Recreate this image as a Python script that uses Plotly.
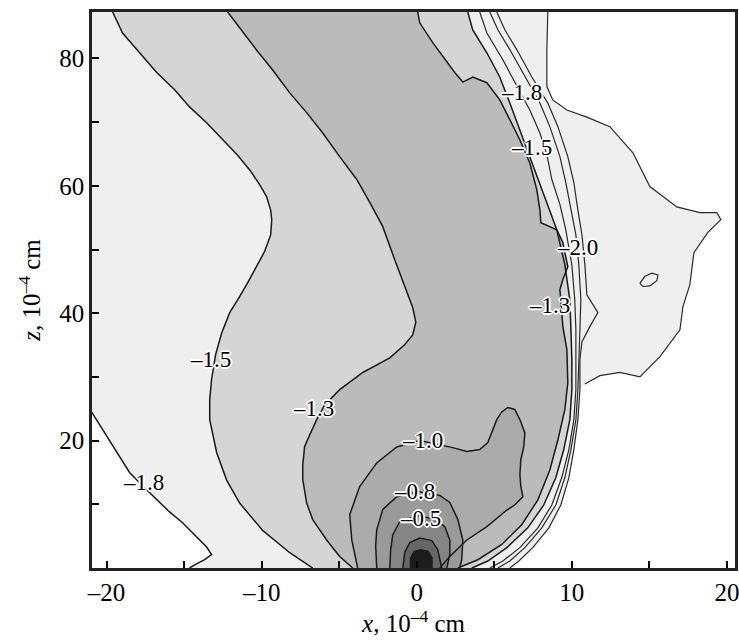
import plotly.graph_objects as go

# ---- axis extents (x, z in 1e-4 cm) ----
X_RANGE = [-20.94, 20.52]
Z_RANGE = [0.0, 87.3]

# ---- contour lines (x, z) ----
# left -1.8
M18L_X = [-20.97, -20.45, -19.81, -19.16, -18.52, -17.55, -16.77, -15.94, -15.10, -14.32, -13.55, -13.23, -13.68, -14.32, -14.65]
M18L_Z = [24.5, 22.5, 20.1, 17.4, 15.0, 12.6, 10.7, 8.8, 7.1, 5.2, 3.3, 2.1, 1.3, 0.5, 0.0]
# left -1.5
M15L_X = [-19.61, -18.97, -17.87, -16.77, -15.61, -14.65, -13.55, -12.52, -11.55, -10.77, -10.13, -9.68, -9.42, -9.35, -9.42, -9.81, -10.32, -10.90, -11.42, -12.06, -12.58, -12.97, -13.23, -13.35, -13.35, -12.90, -12.26, -11.42, -9.94, -8.19, -6.71]
M15L_Z = [87.3, 84.0, 80.9, 77.8, 75.1, 72.4, 69.9, 67.2, 64.8, 62.5, 60.2, 58.3, 56.2, 54.7, 52.3, 49.7, 47.3, 44.8, 42.6, 40.1, 36.9, 33.5, 29.6, 26.4, 23.3, 18.1, 13.8, 10.2, 5.9, 2.4, 0.0]
# left -1.3
M13L_X = [-12.19, -11.42, -10.32, -9.29, -8.19, -7.10, -6.06, -4.97, -3.87, -3.03, -2.19, -1.42, -0.65, -0.26, -0.06, -0.26, -0.77, -1.74, -3.48, -4.97, -5.94, -6.45, -6.90, -7.23, -7.35, -7.35, -7.10, -6.71, -5.81, -4.97, -4.13]
M13L_Z = [87.3, 84.8, 81.3, 78.2, 74.6, 71.5, 68.3, 64.6, 61.0, 57.4, 53.6, 48.4, 43.2, 40.9, 38.6, 36.6, 35.1, 33.0, 30.7, 28.0, 25.6, 23.3, 20.9, 19.1, 16.2, 13.9, 10.2, 7.6, 4.4, 1.8, 0.0]
# right -1.3
M13R_X = [0.06, 0.19, 1.03, 1.94, 2.45, 2.97, 3.61, 4.52, 5.35, 6.00, 6.65, 7.29, 7.74, 7.94, 8.00, 9.03, 9.42, 9.74, 9.42, 9.23, 9.35, 9.42, 9.68, 9.74, 9.55, 9.10, 8.58, 7.81, 6.77, 5.48, 3.94, 2.65]
M13R_Z = [87.3, 85.6, 82.5, 79.5, 77.8, 76.3, 77.1, 76.2, 73.5, 70.4, 67.2, 63.6, 59.4, 56.2, 54.2, 53.1, 51.1, 47.3, 45.3, 43.7, 40.6, 37.9, 34.3, 29.1, 24.9, 20.1, 15.4, 10.7, 6.8, 3.7, 1.3, 0.0]
# right -1.5
M15R_X = [3.29, 3.61, 4.52, 5.35, 6.00, 6.65, 7.29, 7.94, 8.45, 9.03, 9.55, 9.87, 9.94, 10.00, 10.00, 9.87, 9.48, 8.97, 8.19, 7.16, 5.81, 4.58, 3.55]
M15R_Z = [87.3, 84.5, 80.9, 77.1, 73.0, 68.8, 64.6, 60.3, 57.1, 53.1, 47.6, 42.1, 37.4, 32.7, 28.0, 23.3, 18.6, 14.2, 9.9, 6.3, 3.2, 1.1, 0.0]
# right -1.8
M18R_X = [4.06, 4.52, 5.55, 6.45, 7.29, 7.94, 8.39, 8.71, 9.23, 9.61, 10.00, 10.19, 10.26, 10.26, 10.26, 10.13, 9.81, 9.35, 8.71, 7.81, 6.65, 5.55, 4.71]
M18R_Z = [87.3, 84.0, 79.8, 75.6, 71.9, 68.3, 64.9, 61.0, 57.1, 53.1, 47.6, 42.1, 37.4, 32.7, 28.0, 23.3, 18.6, 14.2, 9.9, 6.3, 3.2, 1.1, 0.0]
# right -2.0
M20R_X = [4.71, 5.23, 6.00, 6.97, 7.94, 8.58, 9.23, 9.61, 9.94, 10.26, 10.45, 10.58, 10.52, 10.45, 10.39, 10.26, 9.94, 9.55, 8.97, 8.06, 6.97, 6.00, 5.23]
M20R_Z = [87.3, 84.5, 81.4, 77.1, 73.0, 69.3, 64.6, 60.5, 56.2, 52.3, 47.6, 42.1, 37.4, 32.7, 28.0, 23.3, 18.6, 14.2, 9.9, 6.3, 3.2, 1.1, 0.0]
# outermost bundle line
M23R_X = [5.16, 5.68, 6.45, 7.42, 8.45, 9.10, 9.74, 10.13, 10.39, 10.65, 10.84, 10.97, 11.68, 11.16, 10.65, 10.52, 10.52, 10.39, 10.13, 9.81, 9.29, 8.52, 7.48, 6.58, 6.00]
M23R_Z = [87.3, 84.5, 81.4, 77.1, 73.0, 69.3, 64.6, 60.5, 56.2, 52.3, 47.6, 42.9, 40.1, 37.9, 35.5, 32.7, 28.0, 23.3, 18.6, 14.2, 9.9, 6.3, 3.2, 1.1, 0.0]
# outer boundary of the light area on the right
OUT_X = [8.45, 8.39, 8.39, 8.77, 9.68, 10.97, 12.45, 13.94, 15.03, 16.77, 18.26, 19.35, 19.61, 18.77, 17.87, 17.61, 17.16, 16.97, 15.68, 14.39, 13.10, 11.81, 10.84]
OUT_Z = [87.3, 81.4, 75.6, 73.5, 71.9, 70.8, 69.3, 65.2, 59.9, 56.7, 55.8, 55.8, 54.7, 52.7, 49.5, 44.5, 41.0, 37.4, 33.2, 30.0, 30.7, 30.2, 28.9]
# small closed loop
ISL_X = [14.39, 14.71, 15.16, 15.55, 15.48, 15.03, 14.58, 14.39]
ISL_Z = [44.7, 45.8, 46.3, 46.0, 45.1, 44.3, 44.2, 44.7]
# inner contours around the source
M10_X = [-3.81, -4.19, -4.32, -3.68, -2.58, -1.29, 0.19, 1.48, 2.32, 3.23, 4.06, 4.58, 4.90, 5.16, 5.48, 5.87, 6.32, 6.65, 6.97, 6.90, 6.71, 6.65, 6.71, 6.84, 6.32, 5.81, 4.52, 3.23, 2.13, 1.48]
M10_Z = [0.0, 4.4, 8.4, 12.8, 16.5, 19.0, 20.0, 19.4, 18.9, 18.3, 18.6, 19.7, 21.7, 23.3, 24.5, 25.2, 24.9, 23.3, 21.2, 19.0, 17.0, 14.6, 12.8, 11.2, 9.9, 9.1, 6.5, 4.4, 1.8, 0.0]
M08_X = [-2.58, -2.65, -2.58, -2.19, -1.29, 0.06, 1.48, 2.13, 2.65, 2.97, 2.90, 2.77]
M08_Z = [0.0, 3.5, 6.0, 9.2, 11.2, 12.0, 11.4, 10.3, 7.6, 4.4, 1.3, 0.0]
M05_X = [-1.74, -1.68, -1.55, -1.10, 0.06, 1.16, 1.81, 2.13, 2.13, 1.94]
M05_Z = [0.0, 2.9, 5.2, 7.3, 8.2, 7.7, 6.5, 4.4, 2.1, 0.0]
M03_X = [-0.90, -0.77, -0.45, 0.19, 0.97, 1.35, 1.61]
M03_Z = [0.0, 2.5, 4.0, 4.7, 4.3, 2.9, 0.0]
CORE_X = [-0.45, -0.45, -0.19, 0.26, 0.77, 1.03, 1.03]
CORE_Z = [0.0, 1.6, 2.7, 3.0, 2.7, 1.6, 0.0]

# ---- contour labels ----
LABEL_TEXT = ["–1.8", "–1.5", "–2.0", "–1.3", "–1.5", "–1.3", "–1.0", "–0.8", "–0.5", "–1.8"]
LABEL_X = [6.77, 7.42, 10.39, 8.58, -13.29, -6.65, 0.39, -0.13, 0.26, -17.6]
LABEL_Z = [74.6, 66.0, 50.4, 41.2, 32.7, 25.0, 20.0, 12.0, 7.7, 13.5]

# ---- tick labels ----
X_TICKS = [-20, -10, 0, 10, 20]
X_TICKTEXT = ["–20", "–10", "0", "10", "20"]
X_MINOR = [-15, -5, 5, 15]
Z_TICKS = [20, 40, 60, 80]
Z_MINOR = [10, 30, 50, 70]

SERIF = "Liberation Serif"

fig = go.Figure()


def poly(xs, zs, color):
    fig.add_trace(go.Scatter(x=xs, y=zs, mode="lines", fill="toself", fillcolor=color,
                             line=dict(width=0), hoverinfo="skip", showlegend=False))


def line(xs, zs, w=1.3, color="#1a1a1a"):
    fig.add_trace(go.Scatter(x=xs, y=zs, mode="lines", line=dict(color=color, width=w),
                             hoverinfo="skip", showlegend=False))


# light region (everything above the outermost levels)
o_low = [(x, z) for x, z in zip(M23R_X, M23R_Z) if z < 28.5]
light_x = [X_RANGE[0] - 0.2] + OUT_X + [p[0] for p in o_low] + M18L_X[::-1] + [X_RANGE[0] - 0.2, X_RANGE[0] - 0.2]
light_z = [Z_RANGE[1]] + OUT_Z + [p[1] for p in o_low] + M18L_Z[::-1] + [M18L_Z[0], Z_RANGE[1]]
poly(light_x, light_z, "#efefef")
# inside -1.5
poly(M15L_X + M15R_X[::-1], M15L_Z + M15R_Z[::-1], "#d5d5d5")
# inside -1.3
poly(M13L_X + M13R_X[::-1], M13L_Z + M13R_Z[::-1], "#bbbbbb")
# inside -1.0, -0.8, -0.5, inner ring, core
poly(M10_X, M10_Z, "#ababab")
poly(M08_X, M08_Z, "#9a9a9a")
poly(M05_X, M05_Z, "#858585")
poly(M03_X, M03_Z, "#666666")
poly(CORE_X, CORE_Z, "#1c1c1c")

# contour lines
for xs, zs in [(M18L_X, M18L_Z), (M15L_X, M15L_Z), (M13L_X, M13L_Z), (M13R_X, M13R_Z),
               (M15R_X, M15R_Z), (M10_X, M10_Z), (M08_X, M08_Z), (M05_X, M05_Z),
               (M03_X, M03_Z)]:
    line(xs, zs, 1.5)
for xs, zs in [(M18R_X, M18R_Z), (M20R_X, M20R_Z), (M23R_X, M23R_Z), (OUT_X, OUT_Z),
               (ISL_X, ISL_Z)]:
    line(xs, zs, 1.2, "#2a2a2a")

halo = ("1px 1px 0 white, -1px -1px 0 white, 1px -1px 0 white, -1px 1px 0 white, "
        "2px 0 0 white, -2px 0 0 white, 0 2px 0 white, 0 -2px 0 white")
for t, x, z in zip(LABEL_TEXT, LABEL_X, LABEL_Z):
    fig.add_annotation(x=x, y=z, text=t, showarrow=False,
                       font=dict(family=SERIF, size=23, color="black", shadow=halo))

fig.update_layout(
    width=739, height=644,
    margin=dict(l=92, r=4, t=12, b=76),
    plot_bgcolor="white", paper_bgcolor="white",
    font=dict(family=SERIF, size=25, color="black"),
    xaxis=dict(range=X_RANGE, tickvals=X_TICKS, ticktext=X_TICKTEXT, ticks="inside",
               ticklen=7, tickwidth=1.5, tickcolor="black", automargin=False,
               ticklabeloverflow="allow",
               minor=dict(tickvals=X_MINOR, ticks="inside", ticklen=7, tickwidth=1.5, tickcolor="black"),
               showline=True, linewidth=2.5, linecolor="#222", mirror=True,
               showgrid=False, zeroline=False,
               tickfont=dict(family=SERIF, size=25, color="black"),
               title=dict(text="<i>x</i>, 10<sup>–4</sup> cm",
                          font=dict(family=SERIF, size=25, color="black"), standoff=4)),
    yaxis=dict(range=Z_RANGE, tickvals=Z_TICKS, ticks="inside",
               ticklen=7, tickwidth=1.5, tickcolor="black", automargin=False,
               ticklabeloverflow="allow",
               minor=dict(tickvals=Z_MINOR, ticks="inside", ticklen=7, tickwidth=1.5, tickcolor="black"),
               showline=True, linewidth=2.5, linecolor="#222", mirror=True,
               showgrid=False, zeroline=False,
               tickfont=dict(family=SERIF, size=25, color="black"),
               title=dict(text="<i>z</i>, 10<sup>–4</sup> cm",
                          font=dict(family=SERIF, size=25, color="black"), standoff=12)),
)

fig.write_html("out.html", config={"displayModeBar": False},
               post_script="document.body.style.margin='0';document.body.style.overflow='hidden';")
